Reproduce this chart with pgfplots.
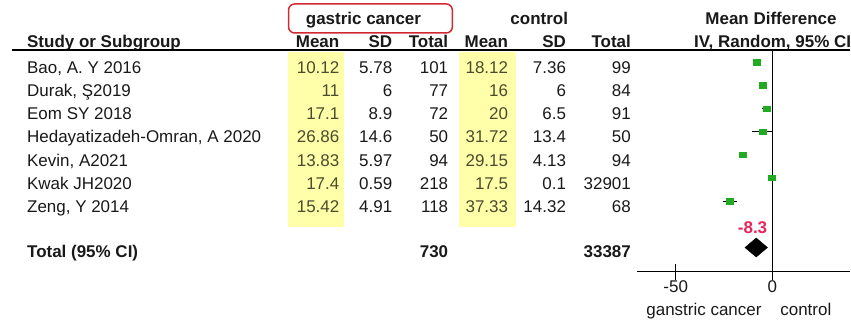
\documentclass[border=0pt]{standalone}
\usepackage{fontspec}
\setmainfont{Liberation Sans}
\usepackage{pgfplots}
\pgfplotsset{compat=1.18}
\usepackage{pgfplotstable}

\definecolor{fgreen}{RGB}{34,170,34}
\definecolor{hlyellow}{RGB}{255,255,170}
\definecolor{boxred}{RGB}{210,40,50}
\definecolor{mdred}{RGB}{232,36,90}
\definecolor{txt}{RGB}{25,25,25}
\definecolor{hltxt}{RGB}{75,75,45}

% mean difference, row, half width of 95% CI
\pgfplotstableread{
row md ci
1 -8.00 1.84
2 -5.00 1.86
3 -2.90 2.45
4 -4.86 5.49
5 -15.32 1.47
6 -0.10 0.08
7 -21.91 3.52
}\studies

\newcommand{\fs}{\fontsize{17bp}{20bp}\selectfont}

% one table row: index, name, mean, sd, n (gastric), mean, sd, n (control)
\newcommand{\studyrow}[8]{%
  \pgfmathsetmacro\yb{73.5+23.2*(#1-1)}
  \node[anchor=base west] at (27,\yb) {#2};
  \node[anchor=base east, text=hltxt] at (340,\yb) {#3};
  \node[anchor=base east] at (393,\yb) {#4};
  \node[anchor=base east] at (449,\yb) {#5};
  \node[anchor=base east, text=hltxt] at (509,\yb) {#6};
  \node[anchor=base east] at (567,\yb) {#7};
  \node[anchor=base east] at (632,\yb) {#8};
}

\begin{document}
\begin{tikzpicture}[font=\fs, text=txt]
\begin{scope}[x=1bp, y=-1bp, every node/.style={inner sep=0pt}]
  \path[use as bounding box] (0,0) rectangle (851,330);
  \fill[hlyellow] (288,52) rectangle (345,227);
  \fill[hlyellow] (460,52) rectangle (517,227);
  \draw[boxred, line width=1.5bp, rounded corners=6bp] (289,4) rectangle (453,33);

  % headers
  \node[font=\fs\bfseries, anchor=base] at (364,25) {gastric cancer};
  \node[font=\fs\bfseries, anchor=base] at (540,25) {control};
  \node[font=\fs\bfseries, anchor=base east] at (838,25) {Mean Difference};
  \node[font=\fs\bfseries, anchor=base west] at (695,48) {IV, Random, 95\% CI};
  \node[font=\fs\bfseries, anchor=base west] at (27,48) {Study or Subgroup};
  \node[font=\fs\bfseries, anchor=base east] at (340,48) {Mean};
  \node[font=\fs\bfseries, anchor=base east] at (393,48) {SD};
  \node[font=\fs\bfseries, anchor=base east] at (449,48) {Total};
  \node[font=\fs\bfseries, anchor=base east] at (509,48) {Mean};
  \node[font=\fs\bfseries, anchor=base east] at (567,48) {SD};
  \node[font=\fs\bfseries, anchor=base east] at (632,48) {Total};
  \draw[black, line width=1.5bp] (12,50) -- (851,50);

  \studyrow{1}{Bao, A. Y 2016}{10.12}{5.78}{101}{18.12}{7.36}{99}
  \studyrow{2}{Durak, Ş2019}{11}{6}{77}{16}{6}{84}
  \studyrow{3}{Eom SY 2018}{17.1}{8.9}{72}{20}{6.5}{91}
  \studyrow{4}{Hedayatizadeh-Omran, A 2020}{26.86}{14.6}{50}{31.72}{13.4}{50}
  \studyrow{5}{Kevin, A2021}{13.83}{5.97}{94}{29.15}{4.13}{94}
  \studyrow{6}{Kwak JH2020}{17.4}{0.59}{218}{17.5}{0.1}{32901}
  \studyrow{7}{Zeng, Y 2014}{15.42}{4.91}{118}{37.33}{14.32}{68}

  \node[font=\fs\bfseries, anchor=base west] at (27,258) {Total (95\% CI)};
  \node[font=\fs\bfseries, anchor=base east] at (449,258) {730};
  \node[font=\fs\bfseries, anchor=base east] at (632,258) {33387};

  \node[anchor=base] at (705,316) {ganstric cancer};
  \node[anchor=base] at (807,316) {control};
\end{scope}

\begin{axis}[
    at={(638.1bp,-272bp)}, anchor=south west,
    scale only axis, width=213.5bp, height=222bp,
    xmin=-70, xmax=40.5, ymin=0.474, ymax=10.04,
    y dir=reverse,
    axis x line=bottom, axis y line=none,
    xtick={-50,0}, xticklabels={-50,0}, ytick=\empty,
    tick align=center, major tick length=16bp,
    x axis line style={-, line width=1.3bp},
    tick style={black, line width=1.3bp},
    xticklabel style={font=\fs, text=txt, inner sep=0pt, anchor=base, yshift=-13bp},
    clip=false,
]
\addplot[black, line width=1.3bp] coordinates {(0,0.474) (0,10.04)};
\addplot[black, only marks, mark=square*, mark size=3.5bp,
    mark options={draw=fgreen, fill=fgreen, yscale=0.75},
    error bars/.cd, x dir=both, x explicit, error mark=none,
    error bar style={black, line width=1.2bp}]
    table[x=md, y=row, x error=ci] {\studies};
\addplot[fill=black, draw=black] coordinates {(-14.15,9) (-8.3,8.59) (-2.45,9) (-8.3,9.41) (-14.15,9)};
\node[text=mdred, font=\fs\bfseries, anchor=base, inner sep=0pt] at (axis cs:-10.2,8.405) {-8.3};
\end{axis}
\end{tikzpicture}
\end{document}
